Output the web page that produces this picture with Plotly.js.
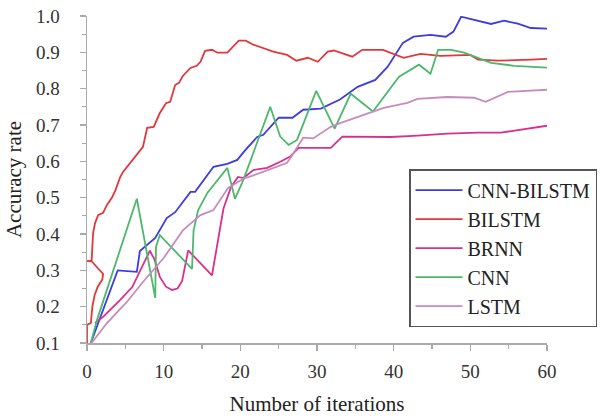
<!DOCTYPE html>
<html>
<head>
<meta charset="utf-8">
<script src="https://cdn.plot.ly/plotly-3.0.1.min.js"></script>
<style>html,body{margin:0;padding:0;background:#fff;}#chart{width:615px;height:416px;}</style>
</head>
<body>
<div id="chart"></div>
<script>
const seriesNames = ["CNN-BILSTM", "BILSTM", "BRNN", "CNN", "LSTM"];

const cnnBilstmX = [0.5, 4.0, 6.5, 6.9, 8.9, 10.4, 11.5, 13.5, 14.1, 16.5, 18.3, 19.6, 20.7, 22.2, 23.0, 25.0, 26.8, 28.2, 30.5, 33.0, 35.3, 37.6, 39.2, 41.2, 42.6, 44.8, 46.8, 47.8, 48.8, 50.0, 52.7, 54.4, 56.2, 57.9, 60];
const cnnBilstmY = [0.10, 0.30, 0.296, 0.353, 0.389, 0.444, 0.46, 0.516, 0.516, 0.585, 0.593, 0.604, 0.632, 0.667, 0.673, 0.72, 0.72, 0.742, 0.745, 0.77, 0.805, 0.824, 0.86, 0.926, 0.943, 0.948, 0.943, 0.957, 0.998, 0.992, 0.978, 0.987, 0.979, 0.967, 0.965];

const bilstmX = [0, 0, 0.5, 0.7, 1.0, 1.4, 2.0, 2.1, 0.6, 0, 0.6, 0.8, 1.05, 1.45, 2.1, 2.6, 3.3, 3.7, 4.3, 4.7, 5.9, 6.7, 7.3, 7.85, 8.7, 9.5, 10.3, 10.85, 11.5, 12, 12.5, 13.5, 14.3, 14.8, 15.4, 16.3, 17, 18.3, 19.8, 20.7, 21.7, 24.3, 26.1, 27.3, 28.8, 30.1, 31.4, 32.2, 34.6, 35.9, 38.6, 41.3, 43.5, 46.1, 50, 51, 53.6, 57.9, 60];
const bilstmY = [0.1, 0.15, 0.155, 0.2, 0.232, 0.255, 0.275, 0.29, 0.325, 0.326, 0.326, 0.403, 0.43, 0.452, 0.458, 0.48, 0.502, 0.52, 0.555, 0.571, 0.604, 0.626, 0.64, 0.692, 0.695, 0.733, 0.76, 0.764, 0.81, 0.816, 0.835, 0.857, 0.863, 0.874, 0.904, 0.907, 0.899, 0.899, 0.932, 0.932, 0.921, 0.902, 0.893, 0.877, 0.885, 0.874, 0.902, 0.905, 0.888, 0.907, 0.907, 0.885, 0.896, 0.89, 0.893, 0.88, 0.877, 0.88, 0.882];

const brnnX = [1.05, 2.1, 4.3, 5.9, 7.3, 8.2, 8.8, 9.5, 10.3, 11.1, 11.8, 12.4, 13.2, 16.3, 17.8, 18.8, 19.7, 20.4, 21.7, 23.5, 25.2, 26.5, 27.6, 31.8, 33.3, 39.6, 42.6, 47, 51, 54, 60];
const brnnY = [0.155, 0.172, 0.218, 0.254, 0.315, 0.354, 0.33, 0.282, 0.255, 0.246, 0.25, 0.27, 0.355, 0.286, 0.47, 0.53, 0.557, 0.554, 0.576, 0.582, 0.599, 0.613, 0.637, 0.637, 0.668, 0.667, 0.67, 0.676, 0.679, 0.679, 0.698];

const cnnX = [0.5, 1.3, 6.5, 8.9, 9.0, 9.5, 13.7, 13.9, 14.5, 15.7, 18.3, 19.3, 20.4, 22.2, 23.9, 25.2, 26.3, 27.4, 29.9, 32.3, 34.4, 37.3, 40.7, 43.3, 44.8, 45.8, 47.5, 49.2, 51, 52.7, 55.7, 60];
const cnnY = [0.1, 0.163, 0.497, 0.224, 0.365, 0.397, 0.304, 0.41, 0.466, 0.513, 0.582, 0.497, 0.549, 0.651, 0.75, 0.668, 0.645, 0.659, 0.794, 0.69, 0.786, 0.737, 0.833, 0.866, 0.841, 0.907, 0.907, 0.899, 0.885, 0.871, 0.863, 0.858];

const lstmX = [0.6, 2.6, 5.2, 7.3, 10, 12.5, 14.8, 16.5, 18.4, 20.4, 22.6, 26.1, 26.8, 28.2, 29.5, 31.8, 33.1, 36.1, 38.7, 41.8, 43.1, 47, 50.5, 52, 54.9, 60];
const lstmY = [0.1, 0.155, 0.213, 0.268, 0.334, 0.41, 0.452, 0.466, 0.527, 0.552, 0.568, 0.596, 0.618, 0.665, 0.663, 0.695, 0.706, 0.728, 0.747, 0.761, 0.772, 0.777, 0.775, 0.764, 0.791, 0.797];

const xTickVals = [0, 10, 20, 30, 40, 50, 60];
const yTickVals = [0.1, 0.2, 0.3, 0.4, 0.5, 0.6, 0.7, 0.8, 0.9, 1.0];

const colors = ["#3c3ce0", "#e0383c", "#d8308c", "#4db86c", "#c68cc0"];
const xs = [cnnBilstmX, bilstmX, brnnX, cnnX, lstmX];
const ys = [cnnBilstmY, bilstmY, brnnY, cnnY, lstmY];

const font = "Liberation Serif";

const traces = seriesNames.map((n, i) => ({
  type: "scatter", mode: "lines", name: n,
  x: xs[i], y: ys[i],
  legendgroup: "g" + i,
  line: {color: colors[i], width: 1.8},
  cliponaxis: false
}));

const axisCommon = {
  showgrid: false, zeroline: false, showline: true,
  linecolor: "#aaaaaa", linewidth: 1.5,
  ticks: "outside", ticklen: 6, tickwidth: 1.2, tickcolor: "#aaaaaa",
  tickfont: {family: font, size: 19, color: "#333"}
};

const layout = {
  width: 615, height: 416,
  margin: {l: 87, r: 68, t: 16, b: 73},
  paper_bgcolor: "#fff", plot_bgcolor: "#fff",
  showlegend: true,
  legend: {
    x: 0.70, y: 0.532, xanchor: "left", yanchor: "top",
    bordercolor: "#555", borderwidth: 1.5, bgcolor: "#fff",
    font: {family: font, size: 20, color: "#222"},
    traceorder: "grouped", tracegroupgap: 0, itemwidth: 47,
    entrywidth: 160, entrywidthmode: "pixels"
  },
  xaxis: Object.assign({}, axisCommon, {
    range: [0, 60], tickvals: xTickVals, ticklabelstandoff: 5,
    minor: {dtick: 5, ticks: "outside", ticklen: 4, tickcolor: "#aaaaaa"},
    title: {text: "Number of iterations", standoff: 16, font: {family: font, size: 21, color: "#222"}}
  }),
  yaxis: Object.assign({}, axisCommon, {
    range: [0.1, 1.0], tickvals: yTickVals, tickformat: ".1f", ticklabelstandoff: 16,
    minor: {dtick: 0.05, tick0: 0.1, ticks: "outside", ticklen: 4, tickcolor: "#aaaaaa"},
    title: {text: "Accuracy rate", standoff: 8, font: {family: font, size: 21, color: "#222"}}
  })
};

Plotly.newPlot("chart", traces, layout, {displayModeBar: false, staticPlot: true});
</script>
</body>
</html>
